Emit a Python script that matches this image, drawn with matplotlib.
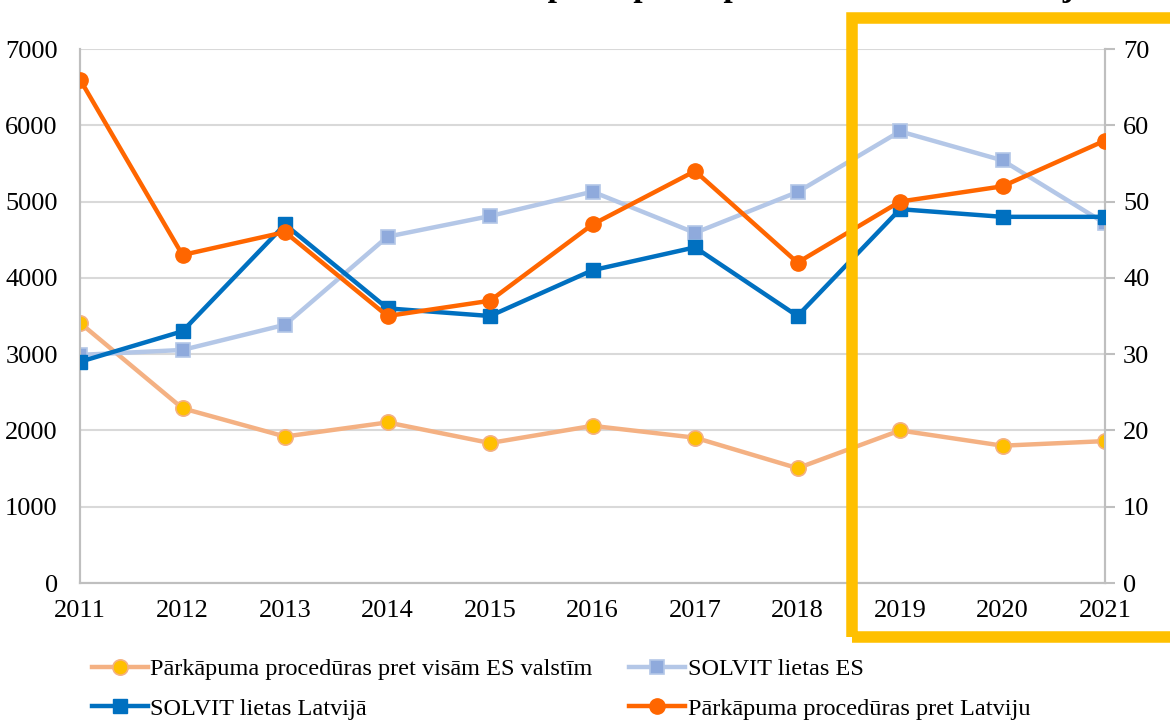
import matplotlib
matplotlib.use("Agg")
import matplotlib.pyplot as plt
from matplotlib.patches import Rectangle

plt.rcParams['font.family'] = ['Liberation Serif', 'DejaVu Serif']

years = [2011, 2012, 2013, 2014, 2015, 2016, 2017, 2018, 2019, 2020, 2021]
year_labels = [str(y) for y in years]

# left axis
infr_es = [3410, 2290, 1920, 2105, 1835, 2060, 1905, 1505, 2000, 1800, 1860]
solvit_es = [2990, 3055, 3385, 4540, 4810, 5130, 4590, 5125, 5920, 5540, 4715]
# right axis
solvit_lv = [29, 33, 47, 36, 35, 41, 44, 35, 49, 48, 48]
infr_lv = [66, 43, 46, 35, 37, 47, 54, 42, 50, 52, 58]

left_ticks = [0, 1000, 2000, 3000, 4000, 5000, 6000, 7000]
right_ticks = [0, 10, 20, 30, 40, 50, 60, 70]

title = "SOLVIT lietas un pārkāpuma procedūras ES un Latvijā"
lbl_infr_es = "Pārkāpuma procedūras pret visām ES valstīm"
lbl_solvit_es = "SOLVIT lietas ES"
lbl_solvit_lv = "SOLVIT lietas Latvijā"
lbl_infr_lv = "Pārkāpuma procedūras pret Latviju"

grid_c = "#D9D9D9"
spine_c = "#BFBFBF"
fs = 19

fig = plt.figure(figsize=(11.7, 7.2), dpi=100)
ax = fig.add_axes([80 / 1170, 1 - 583 / 720, 1025 / 1170, 534 / 720])
ax2 = ax.twinx()

x = list(range(len(years)))

l1, = ax.plot(x, infr_es, color="#F4B183", lw=3.2, marker="o", ms=11,
              mfc="#FFC000", mec="#F4B183", mew=1.2, label=lbl_infr_es, zorder=3)
l2, = ax.plot(x, solvit_es, color="#B4C7E7", lw=3.2, marker="s", ms=10,
              mfc="#8FAADC", mec="#B4C7E7", mew=1.2, label=lbl_solvit_es, zorder=3)
l3, = ax2.plot(x, solvit_lv, color="#0070C0", lw=3.2, marker="s", ms=10.5,
               mfc="#0070C0", mec="#0070C0", label=lbl_solvit_lv, zorder=3)
l4, = ax2.plot(x, infr_lv, color="#FF6600", lw=3.2, marker="o", ms=11,
               mfc="#FF6600", mec="#FF6600", label=lbl_infr_lv, zorder=3)

ax.set_xlim(0, len(years) - 1)
ax.set_ylim(0, 7000)
ax2.set_ylim(0, 70)
ax.set_yticks(left_ticks)
ax2.set_yticks(right_ticks)
ax.set_xticks(x)
ax.set_xticklabels(year_labels)

ax.grid(axis="y", color=grid_c, lw=1.5)
ax.set_axisbelow(True)

for a in (ax, ax2):
    a.spines["top"].set_visible(False)
    for s in ("left", "right", "bottom"):
        a.spines[s].set_color(spine_c)
        a.spines[s].set_linewidth(1.5)

ax.tick_params(axis="y", length=0, pad=16, labelsize=fs)
ax.tick_params(axis="x", length=0, pad=12, labelsize=fs)
ax2.tick_params(axis="y", length=7, width=1.5, color=spine_c, pad=6, labelsize=fs)

fig.legend([l1, l3, l2, l4], [lbl_infr_es, lbl_solvit_lv, lbl_solvit_es, lbl_infr_lv],
           ncol=2, loc="upper left", bbox_to_anchor=(92 / 1170, 1 - 658 / 720),
           frameon=False, fontsize=17.5, handlelength=2.3, handletextpad=0.1,
           columnspacing=1.5, labelspacing=0.72, borderpad=0, borderaxespad=0)

# highlight box around 2019-2021 (right edge runs off the picture)
fig.patches.append(Rectangle((852 / 1170, 1 - 637 / 720), 322 / 1170, 619 / 720,
                             transform=fig.transFigure, fill=False,
                             edgecolor="#FFC000", lw=8.3, zorder=5))

# title sits almost entirely above the visible area, only descenders show
fig.text(0.59, 1 + 4 / 720, title, ha="center", va="baseline",
         fontsize=24, fontweight="bold")

fig.savefig("out.png", dpi=100)
